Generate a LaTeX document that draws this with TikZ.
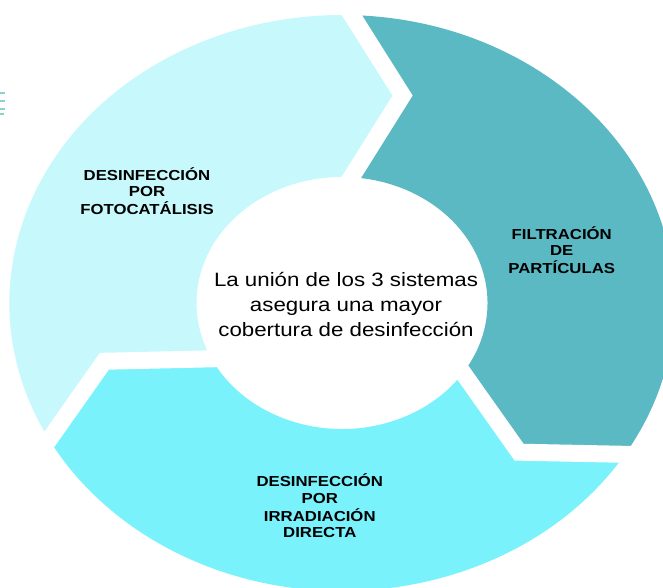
\documentclass[tikz,border=0pt]{standalone}
\usepackage{fontspec}
\setmainfont{Liberation Sans}
\usepackage{graphicx}
\definecolor{segLight}{HTML}{C6F8FC}
\definecolor{segTeal}{HTML}{5BB9C4}
\definecolor{segCyan}{HTML}{79F2FC}
\definecolor{dashTeal}{HTML}{8FD0CC}
\newcommand{\lblbox}[1]{\scalebox{1.155}[1]{\begin{tabular}{@{}c@{}}#1\end{tabular}}}
\begin{document}
\begin{tikzpicture}[x=1pt,y=1pt,
  gapline/.style={draw=white, line width=17pt, line join=miter, shorten <=-14pt, shorten >=-14pt},
  lbl/.style={inner sep=0pt, font=\fontsize{14.5}{16.6}\selectfont\bfseries},
  ctr/.style={inner sep=0pt, font=\fontsize{19.3}{25}\selectfont},
  dashline/.style={draw=dashTeal, line width=1.8pt}]
\useasboundingbox (0,0) rectangle (663,588);
\begin{scope}
\clip (0,0) rectangle (663,588);
\begin{scope}[shift={(342,285)}]
  % joints: outer point, tip, inner point
  \coordinate (J1o) at (88.3:332.6 and 288);
  \coordinate (J1t) at (75.8:247 and 214);
  \coordinate (J1i) at (86.3:145.5 and 126);
  \coordinate (J2o) at (-31.7:332.6 and 288);
  \coordinate (J2t) at (-44.2:247 and 214);
  \coordinate (J2i) at (-33.7:145.5 and 126);
  \coordinate (J3o) at (208.3:332.6 and 288);
  \coordinate (J3t) at (195.8:247 and 214);
  \coordinate (J3i) at (206.3:145.5 and 126);
  % teal segment
  \fill[segTeal] (J1o) arc[start angle=88.3, end angle=-31.7, x radius=332.6, y radius=288]
     -- (J2t) -- (J2i) arc[start angle=-33.7, end angle=86.3, x radius=145.5, y radius=126]
     -- (J1t) -- cycle;
  % cyan segment
  \fill[segCyan] (J2o) arc[start angle=-31.7, end angle=-151.7, x radius=332.6, y radius=288]
     -- (J3t) -- (J3i) arc[start angle=-153.7, end angle=-33.7, x radius=145.5, y radius=126]
     -- (J2t) -- cycle;
  % light segment
  \fill[segLight] (J3o) arc[start angle=208.3, end angle=88.3, x radius=332.6, y radius=288]
     -- (J1t) -- (J1i) arc[start angle=86.3, end angle=206.3, x radius=145.5, y radius=126]
     -- (J3t) -- cycle;
  % white gaps
  \draw[gapline] (J1o) -- (J1t) -- (J1i);
  \draw[gapline] (J2o) -- (J2t) -- (J2i);
  \draw[gapline] (J3o) -- (J3t) -- (J3i);
\end{scope}
\end{scope}
% small partial icon at left
\draw[dashline] (0,495) -- (5,495);
\draw[dashline] (0,487.3) -- (5,487.3);
\draw[dashline] (0,479) -- (5,479);
\draw[dashline] (0,474) -- (4,474);
% labels
\node[ctr] (centro) at (346,281.3) {\lblbox{La unión de los 3 sistemas\\asegura una mayor\\cobertura de desinfección}};
\node[lbl] (fotocat) at (147,394.7) {\lblbox{DESINFECCIÓN\\POR\\FOTOCATÁLISIS}};
\node[lbl] (filtra) at (561.7,335.4) {\lblbox{FILTRACIÓN\\DE\\PARTÍCULAS}};
\node[lbl] (irrad) at (319.8,79.7) {\lblbox{DESINFECCIÓN\\POR\\IRRADIACIÓN\\DIRECTA}};
\end{tikzpicture}
\end{document}
